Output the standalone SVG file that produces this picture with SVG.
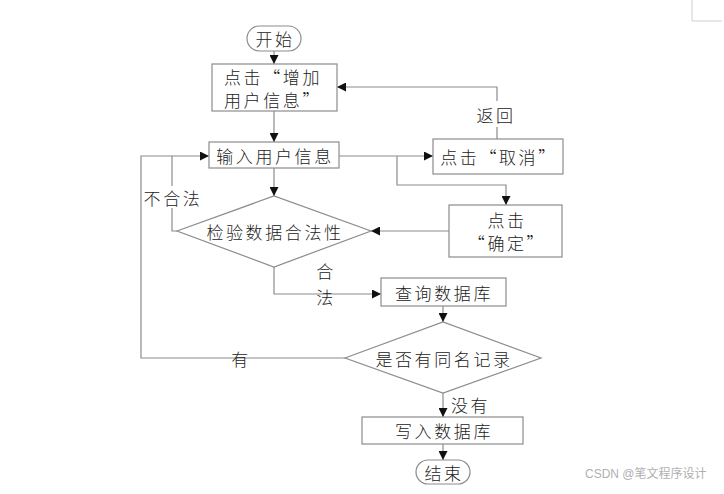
<svg xmlns="http://www.w3.org/2000/svg" width="724" height="494" viewBox="0 0 724 494">
<style>
.shape{fill:#fff;stroke:#8c8c8c;stroke-width:1.2}
.line{fill:none;stroke:#8c8c8c;stroke-width:1.2}
.t{font-family:"Noto Sans CJK SC","Liberation Serif",sans-serif;font-size:17px;font-weight:300;fill:#222;dominant-baseline:central;letter-spacing:2.6px}
.c{text-anchor:middle}
.wm{font-family:"Liberation Sans","Noto Sans CJK SC",sans-serif;font-size:12px;fill:#b0b0b0;dominant-baseline:central}
</style>
<defs>
<marker id="arr" viewBox="0 0 10 10" refX="10" refY="5" markerWidth="9" markerHeight="9" markerUnits="userSpaceOnUse" orient="auto">
<path d="M0,0 L10,5 L0,10 Z" fill="#111"/>
</marker>
</defs>
<rect width="724" height="494" fill="#fff"/>
<path d="M692,0 V21 H722" fill="none" stroke="#cfcfcf" stroke-width="1"/>
<g id="connectors">
<path class="line" d="M274,51 V64" marker-end="url(#arr)"/>
<path class="line" d="M274,111 V142" marker-end="url(#arr)"/>
<path class="line" d="M339,156 H433" marker-end="url(#arr)"/>
<path class="line" d="M497,139 V127 M497,101 V87 H337" marker-end="url(#arr)"/>
<path class="line" d="M397,156 V185 H506 V205" marker-end="url(#arr)"/>
<path class="line" d="M449,231 H371" marker-end="url(#arr)"/>
<path class="line" d="M274,168 V196" marker-end="url(#arr)"/>
<path class="line" d="M177,231 H172 V208 M172,186 V156 H209" marker-end="url(#arr)"/>
<path class="line" d="M274,267 V294 H381" marker-end="url(#arr)"/>
<path class="line" d="M443,306 V322" marker-end="url(#arr)"/>
<path class="line" d="M345,358 H141 V156 H172"/>
<path class="line" d="M443,393 V417" marker-end="url(#arr)"/>
<path class="line" d="M443,444 V460" marker-end="url(#arr)"/>
<text class="t c" x="496" y="114">返回</text>
<text class="t c" x="173" y="197">不合法</text>
<text class="t c" x="326" y="270">合</text>
<text class="t c" x="326" y="296">法</text>
<text class="t c" x="241" y="358">有</text>
<text class="t" x="451" y="404">没有</text>
</g>
<g id="start">
<rect class="shape" x="247" y="26" width="54" height="25" rx="12.5"/>
<text class="t c" x="275" y="38.5">开始</text>
</g>
<g id="add">
<rect class="shape" x="212" y="64" width="125" height="47"/>
<text class="t" x="224" y="76">点击“增加</text>
<text class="t" x="224" y="99">用户信息”</text>
</g>
<g id="input">
<rect class="shape" x="209" y="142" width="130" height="26"/>
<text class="t c" x="275" y="155">输入用户信息</text>
</g>
<g id="cancel">
<rect class="shape" x="433" y="139" width="130" height="35"/>
<text class="t c" x="499" y="156">点击“取消”</text>
</g>
<g id="confirm">
<rect class="shape" x="449" y="205" width="113" height="52"/>
<text class="t c" x="507" y="219">点击</text>
<text class="t c" x="507" y="242">“确定”</text>
</g>
<g id="check">
<polygon class="shape" points="177,231 274,196 371,231 274,267"/>
<text class="t c" x="275" y="231">检验数据合法性</text>
</g>
<g id="query">
<rect class="shape" x="381" y="278" width="125" height="28"/>
<text class="t c" x="444" y="292">查询数据库</text>
</g>
<g id="dup">
<polygon class="shape" points="345,358 443,322 541,358 443,393"/>
<text class="t c" x="444" y="358">是否有同名记录</text>
</g>
<g id="write">
<rect class="shape" x="362" y="417" width="161" height="27"/>
<text class="t c" x="444" y="430">写入数据库</text>
</g>
<g id="end">
<rect class="shape" x="416" y="460" width="54" height="24" rx="12"/>
<text class="t c" x="444" y="472">结束</text>
</g>
<text class="wm" x="585" y="474">CSDN @笔文程序设计</text>
</svg>
